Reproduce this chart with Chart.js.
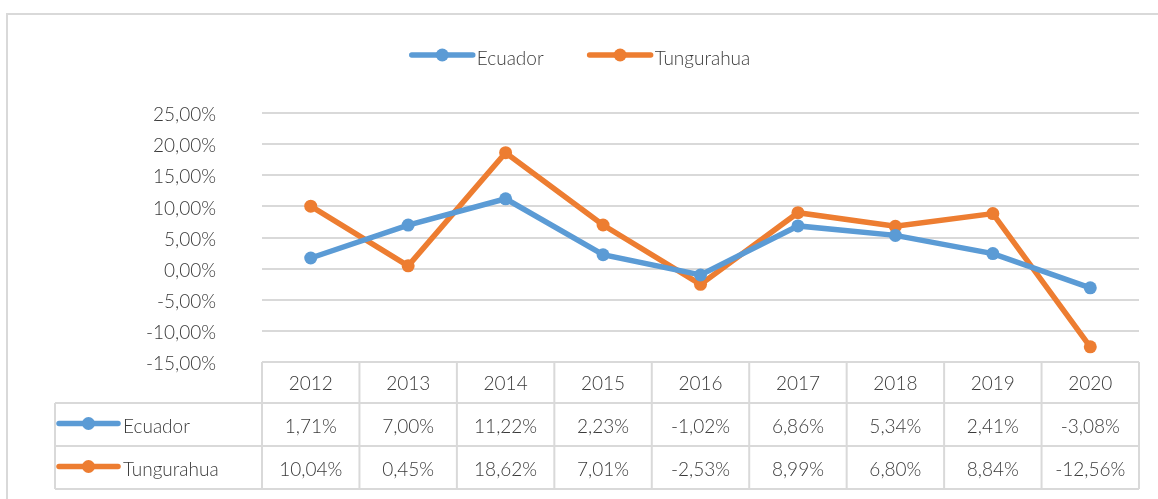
<!DOCTYPE html>
<html>
<head>
<meta charset="utf-8">
<script src="https://cdn.jsdelivr.net/npm/chart.js@4"></script>
<style>
  html, body { margin: 0; padding: 0; background: #fff; }
  #wrap { position: relative; width: 1158px; height: 499px; }
</style>
</head>
<body>
<div id="wrap"><canvas id="chartLine"></canvas></div>
<script>
const years = ['2012', '2013', '2014', '2015', '2016', '2017', '2018', '2019', '2020'];
const ecuador = [1.71, 7.00, 11.22, 2.23, -1.02, 6.86, 5.34, 2.41, -3.08];
const tungurahua = [10.04, 0.45, 18.62, 7.01, -2.53, 8.99, 6.80, 8.84, -12.56];
const seriesNames = ['Ecuador', 'Tungurahua'];
const yMin = -15, yMax = 25, yStep = 5;

const colors = ['#5B9BD5', '#ED7D31'];
const gridColor = '#d9d9d9';
const textColor = '#3a3a3a';
const fontFamily = "Lato, 'Open Sans', sans-serif";

function pct(v) {
    return v.toFixed(2).replace('.', ',') + '%';
}

function drawKey(ctx, x1, x2, y, color) {
    ctx.save();
    ctx.strokeStyle = color;
    ctx.fillStyle = color;
    ctx.lineWidth = 5.5;
    ctx.lineCap = 'round';
    ctx.beginPath();
    ctx.moveTo(x1, y);
    ctx.lineTo(x2, y);
    ctx.stroke();
    ctx.beginPath();
    ctx.arc((x1 + x2) / 2, y, 6.5, 0, Math.PI * 2);
    ctx.fill();
    ctx.restore();
}

// excel style frame, legend and data table under the plot
const excelExtras = {
    id: 'excelExtras',
    beforeDraw(chart) {
        const ctx = chart.ctx;
        ctx.save();
        ctx.strokeStyle = gridColor;
        ctx.lineWidth = 2;
        ctx.strokeRect(7, 14, chart.width + 20, chart.height + 20);
        ctx.restore();
    },
    afterDraw(chart) {
        const ctx = chart.ctx;
        const area = chart.chartArea;
        const x = chart.scales.x;
        const datasets = chart.data.datasets;
        ctx.save();
        ctx.font = '300 19px ' + fontFamily;
        ctx.fillStyle = textColor;
        ctx.textBaseline = 'middle';

        // top legend, centred
        const keyW = 61, txtGap = 4, itemGap = 46;
        const widths = datasets.map(d => ctx.measureText(d.label).width);
        let total = 0;
        widths.forEach((w, i) => { total += keyW + txtGap + w + (i ? itemGap : 0); });
        let lx = chart.width / 2 - total / 2 + 2;
        datasets.forEach((d, i) => {
            drawKey(ctx, lx, lx + keyW, 55, d.borderColor);
            ctx.fillStyle = textColor;
            ctx.textAlign = 'left';
            ctx.fillText(d.label, lx + keyW + txtGap, 59);
            lx += keyW + txtGap + widths[i] + itemGap;
        });

        // data table
        const top = area.bottom;
        const headH = 41, rowH = 43;
        const tableLeft = 55;
        const n = years.length;
        const step = (area.right - area.left) / n;
        const bottom = top + headH + rowH * datasets.length;

        ctx.strokeStyle = gridColor;
        ctx.lineWidth = 2;
        ctx.beginPath();
        ctx.moveTo(area.left, top); ctx.lineTo(area.right, top);
        for (let r = 0; r <= datasets.length; r++) {
            const y = top + headH + rowH * r;
            ctx.moveTo(tableLeft, y); ctx.lineTo(area.right, y);
        }
        for (let c = 0; c <= n; c++) {
            const xx = area.left + step * c;
            ctx.moveTo(xx, top); ctx.lineTo(xx, bottom);
        }
        ctx.moveTo(tableLeft, top + headH); ctx.lineTo(tableLeft, bottom);
        ctx.stroke();

        ctx.fillStyle = textColor;
        ctx.textAlign = 'center';
        years.forEach((yr, i) => {
            ctx.fillText(yr, x.getPixelForValue(i), top + headH / 2 + 1);
        });
        datasets.forEach((d, r) => {
            const cy = top + headH + rowH * r + rowH / 2;
            drawKey(ctx, tableLeft + 4, tableLeft + 63, cy - 1, d.borderColor);
            ctx.fillStyle = textColor;
            ctx.textAlign = 'left';
            ctx.fillText(d.label, tableLeft + 68, cy + 2);
            ctx.textAlign = 'center';
            d.data.forEach((v, i) => {
                ctx.fillText(pct(v), x.getPixelForValue(i), cy + 2);
            });
        });
        ctx.restore();
    }
};

new Chart(document.getElementById('chartLine'), {
    type: 'line',
    data: {
        labels: years,
        datasets: [ecuador, tungurahua].map((vals, i) => ({
            label: seriesNames[i],
            data: vals,
            borderColor: colors[i],
            backgroundColor: colors[i],
            pointBackgroundColor: colors[i],
            pointBorderColor: colors[i],
            borderWidth: 5.5,
            pointRadius: 6.5,
            pointBorderWidth: 0,
            tension: 0,
            fill: false
        }))
    },
    options: {
        responsive: true,
        maintainAspectRatio: false,
        animation: false,
        layout: { padding: { left: 0, right: 19, top: 113, bottom: 137 } },
        plugins: {
            legend: { display: false },
            tooltip: { enabled: false }
        },
        scales: {
            x: {
                display: false,
                offset: true
            },
            y: {
                min: yMin,
                max: yMax,
                afterFit(scale) { scale.width = 262; },
                border: { display: false },
                grid: { color: gridColor, lineWidth: 2, drawTicks: false },
                ticks: {
                    stepSize: yStep,
                    padding: 46,
                    labelOffset: 2,
                    color: textColor,
                    font: { family: fontFamily, size: 19, weight: '300' },
                    callback: v => pct(v)
                }
            }
        }
    },
    plugins: [excelExtras]
});
</script>
</body>
</html>
